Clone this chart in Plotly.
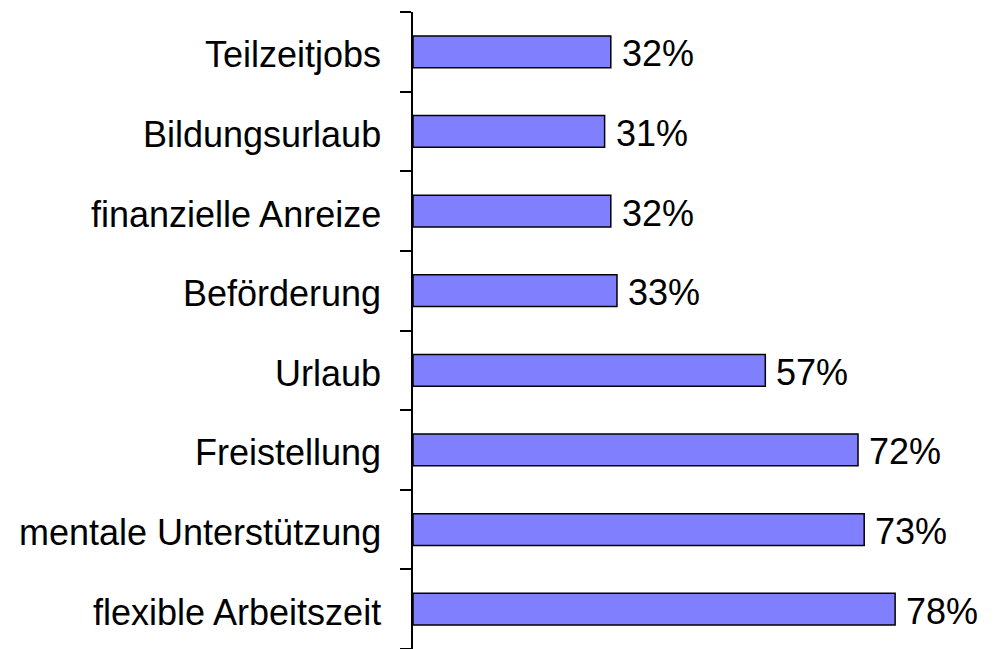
import plotly.graph_objects as go

categories = ["flexible Arbeitszeit", "mentale Unterstützung", "Freistellung", "Urlaub",
              "Beförderung", "finanzielle Anreize", "Bildungsurlaub", "Teilzeitjobs"]
values = [78, 73, 72, 57, 33, 32, 31, 32]

FONT = "Liberation Sans, Arial"

fig = go.Figure(go.Bar(
    x=values, y=categories, orientation="h",
    marker=dict(color="#8080FF", line=dict(color="black", width=1.5)),
    cliponaxis=False, width=0.4,
))

for c, v in zip(categories, values):
    fig.add_annotation(x=0, xref="paper", y=c, yref="y", text=c, showarrow=False,
                       xanchor="right", yanchor="middle", xshift=-30, yshift=-3,
                       font=dict(family=FONT, size=36, color="black"))
    fig.add_annotation(x=v, xref="x", y=c, yref="y", text=f"{v}%", showarrow=False,
                       xanchor="left", yanchor="middle", xshift=9, yshift=-2,
                       font=dict(family=FONT, size=36, color="black"))

fig.update_layout(
    width=994, height=649,
    margin=dict(l=405, r=8, t=4, b=8),
    plot_bgcolor="white", paper_bgcolor="white",
    font=dict(family=FONT, size=36, color="black"),
    showlegend=False,
    xaxis=dict(range=[0, 94], visible=False, showgrid=False, zeroline=False),
    yaxis=dict(type="category", range=[-0.5, 7.5], showline=True, linecolor="black", linewidth=1.5,
               ticks="outside", tickson="boundaries", ticklen=11, tickwidth=1.5, tickcolor="black",
               showgrid=False, showticklabels=False, automargin=False),
)

fig.write_html("out.html")
